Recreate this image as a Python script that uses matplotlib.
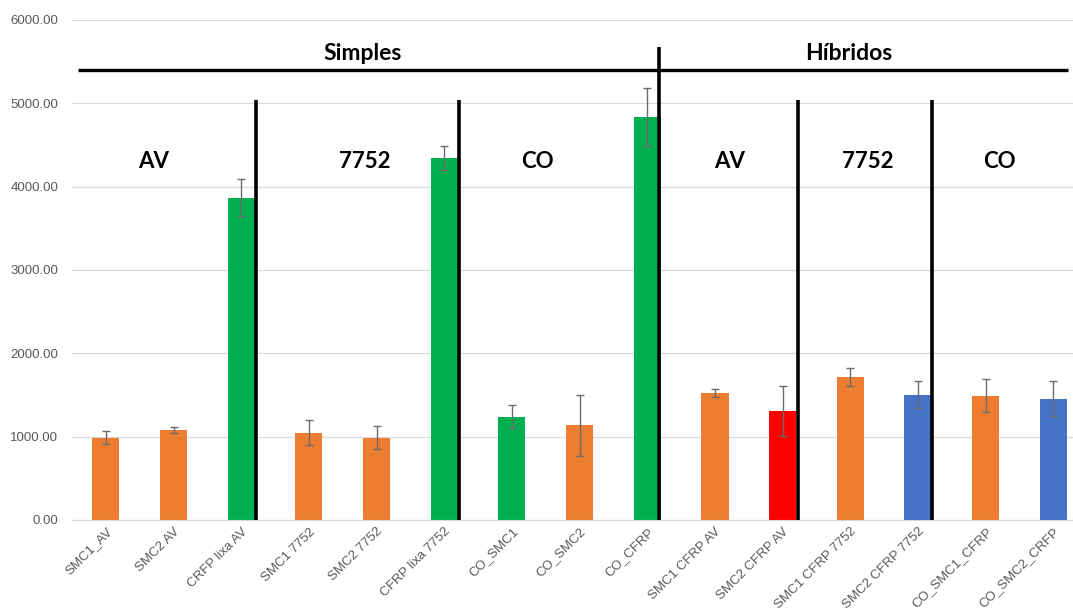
import matplotlib
matplotlib.use("Agg")
import matplotlib.pyplot as plt
import numpy as np

categories = ["SMC1_AV", "SMC2 AV", "CRFP lixa AV", "SMC1 7752", "SMC2 7752",
              "CFRP lixa 7752", "CO_SMC1", "CO_SMC2", "CO_CFRP", "SMC1 CFRP AV",
              "SMC2 CFRP AV", "SMC1 CFRP 7752", "SMC2 CFRP 7752", "CO_SMC1_CFRP",
              "CO_SMC2_CRFP"]
values = [990, 1078, 3868, 1048, 990, 4340, 1242, 1135, 4835, 1524,
          1314, 1720, 1505, 1494, 1458]
errors = [80, 38, 220, 150, 135, 145, 140, 368, 345, 52, 300, 108, 165, 202, 210]

ORANGE, GREEN, RED, BLUE = "#ED7D31", "#00B050", "#FF0000", "#4472C4"
colors = [ORANGE, ORANGE, GREEN, ORANGE, ORANGE, GREEN, GREEN, ORANGE, GREEN,
          ORANGE, RED, ORANGE, BLUE, ORANGE, BLUE]

yticks = [0, 1000, 2000, 3000, 4000, 5000, 6000]

# group separators: (x position, top value)
separators = [(2.22, 5040), (5.22, 5040), (8.18, 5680), (10.22, 5040), (12.2, 5040)]
group_labels = [(0.70, "AV"), (3.83, "7752"), (6.37, "CO"),
                (9.22, "AV"), (11.26, "7752"), (13.21, "CO")]
family_labels = [(3.79, "Simples"), (10.97, "Híbridos")]

fig = plt.figure(figsize=(10.73, 6.10), dpi=100)
ax = fig.add_axes([72 / 1073, 1 - 520 / 610, (1073 - 72) / 1073, 500 / 610])

x = np.arange(len(categories))
ax.bar(x, values, width=0.4, color=colors, zorder=2)
ax.errorbar(x, values, yerr=errors, fmt="none", ecolor="#6b6b6b",
            elinewidth=1.0, capsize=3, capthick=1.0, zorder=3)

ax.set_ylim(0, 6000)
ax.set_xlim(-0.5, 14.29)
ax.set_yticks(yticks)
ax.set_yticklabels([f"{v:.2f}" for v in yticks], fontsize=9.5, color="#595959",
                   family="Liberation Sans")
ax.yaxis.grid(True, color="#d9d9d9", lw=0.9, zorder=0)
ax.set_axisbelow(True)
ax.tick_params(axis="y", length=0, pad=10)
ax.tick_params(axis="x", length=0, pad=4)
ax.set_xticks(x)
ax.set_xticklabels(categories, rotation=45, ha="right", rotation_mode="anchor",
                   fontsize=9.5, color="#595959", family="Liberation Sans")
for s in ["top", "right", "left"]:
    ax.spines[s].set_visible(False)
ax.spines["bottom"].set_color("#d9d9d9")

# group annotations
ax.plot([-0.41, 14.22], [5400, 5400], color="black", lw=2.4, zorder=4,
        solid_capstyle="butt")
for xs, top in separators:
    ax.plot([xs, xs], [0, top], color="black", lw=2.6, zorder=4,
            solid_capstyle="butt")
for xp, txt in group_labels:
    ax.text(xp, 4300, txt, ha="center", va="center", fontsize=16,
            fontweight="bold", family="Lato", color="black", zorder=5)
for xp, txt in family_labels:
    ax.text(xp, 5600, txt, ha="center", va="center", fontsize=16.5,
            fontweight="bold", family="Lato", color="black", zorder=5)

fig.savefig("out.png", dpi=100)
